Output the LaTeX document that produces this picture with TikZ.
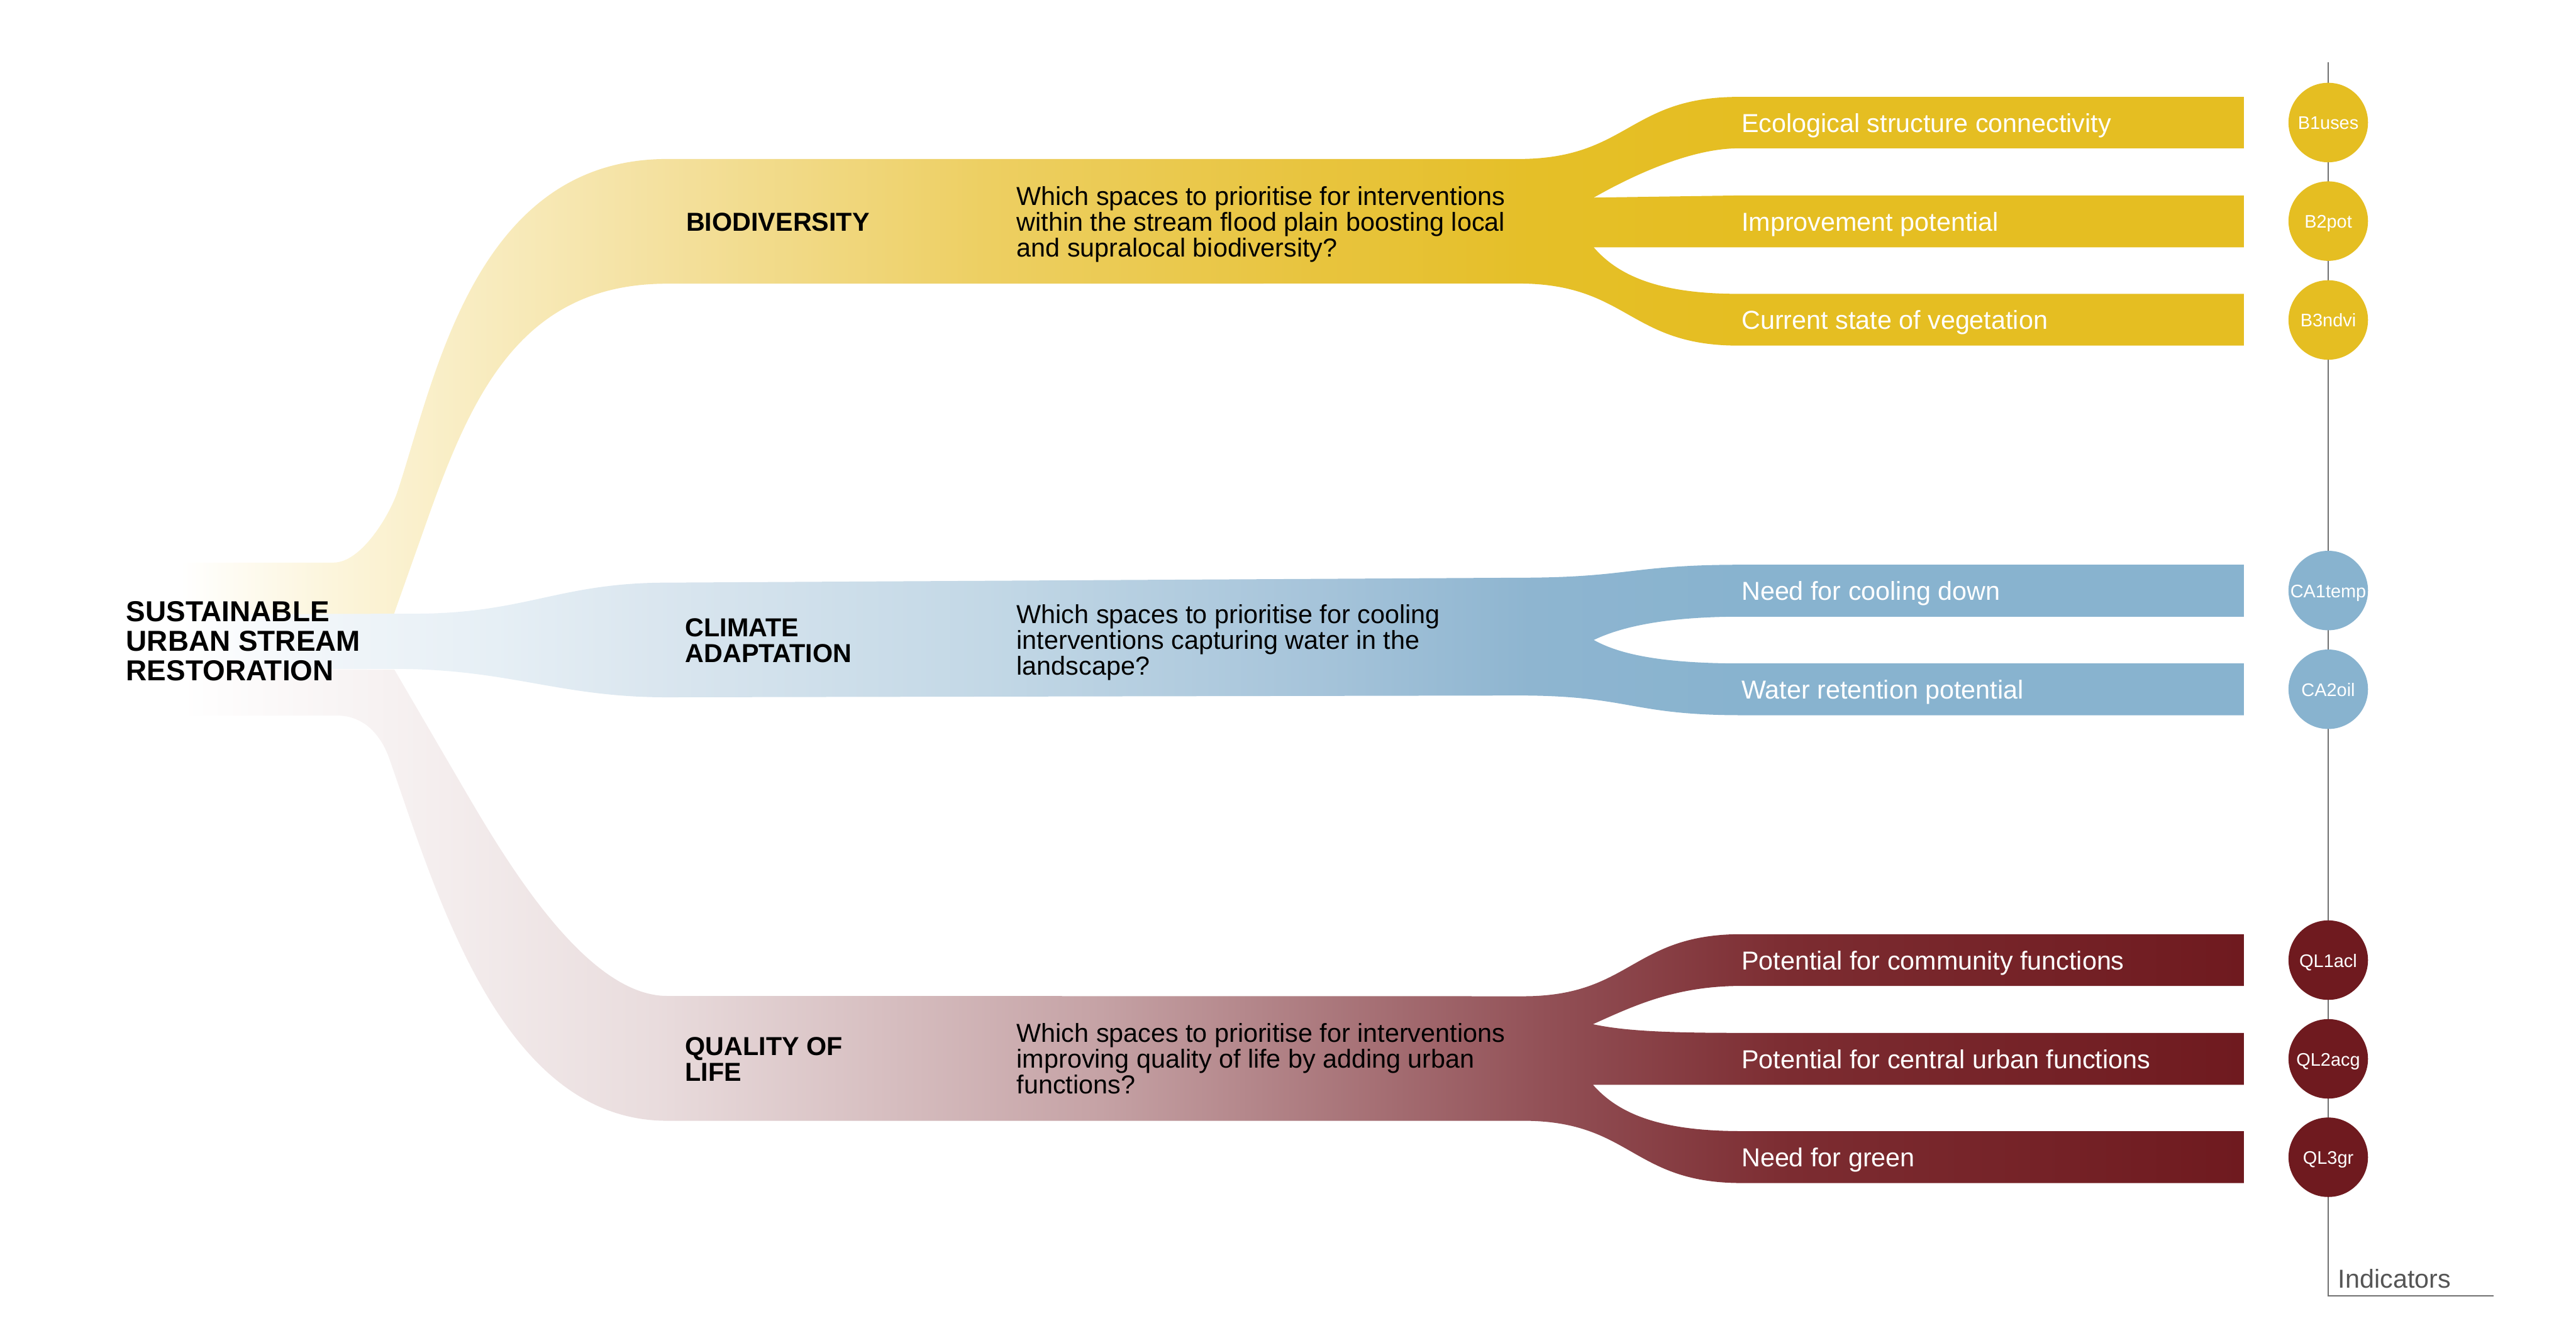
\documentclass[tikz,border=0pt]{standalone}
\usepackage{fontspec}
\setmainfont{Liberation Sans}
\definecolor{yA}{HTML}{FFFFFF}\definecolor{yB}{HTML}{FCF5DC}\definecolor{yC}{HTML}{F8EBBD}
\definecolor{yD}{HTML}{F4E1A0}\definecolor{yE}{HTML}{EDCF62}\definecolor{yF}{HTML}{E8C43E}
\definecolor{yG}{HTML}{E5BF28}\definecolor{yH}{HTML}{E5BE22}
\definecolor{bA}{HTML}{FFFFFF}\definecolor{bB}{HTML}{F0F5F9}\definecolor{bC}{HTML}{E6EFF5}
\definecolor{bD}{HTML}{DAE6EF}\definecolor{bE}{HTML}{C3D8E6}\definecolor{bF}{HTML}{A6C4DA}
\definecolor{bG}{HTML}{8EB5D0}\definecolor{bH}{HTML}{88B3CF}
\definecolor{rA}{HTML}{FFFFFF}\definecolor{rB}{HTML}{F5EFEF}\definecolor{rC}{HTML}{E9DCDD}
\definecolor{rD}{HTML}{C5A2A5}\definecolor{rE}{HTML}{925056}\definecolor{rF}{HTML}{7C2C31}
\definecolor{rG}{HTML}{6F1A1F}
\definecolor{axisgray}{HTML}{707070}
\definecolor{labgray}{HTML}{555555}
\pgfdeclarehorizontalshading{yelgrad}{100bp}{color(0bp)=(yA); color(25bp)=(yA); color(28.6bp)=(yB); color(32.6bp)=(yC); color(36.5bp)=(yD); color(44.5bp)=(yE); color(52.5bp)=(yF); color(57.7bp)=(yG); color(62.8bp)=(yH); color(100bp)=(yH)}
\pgfdeclarehorizontalshading{bluegrad}{100bp}{color(0bp)=(bA); color(25bp)=(bA); color(28.6bp)=(bB); color(32.6bp)=(bC); color(36.5bp)=(bD); color(44.5bp)=(bE); color(52.5bp)=(bF); color(57.7bp)=(bG); color(62.8bp)=(bH); color(100bp)=(bH)}
\pgfdeclarehorizontalshading{redgrad}{100bp}{color(0bp)=(rA); color(25bp)=(rA); color(30.8bp)=(rB); color(36.5bp)=(rC); color(47.3bp)=(rD); color(58.1bp)=(rE); color(64bp)=(rF); color(75bp)=(rG); color(100bp)=(rG)}
\tikzset{
  rootlbl/.style={font=\bfseries\fontsize{10}{10.27}\selectfont, align=left, inner sep=0pt, anchor=base west},
  headlbl/.style={font=\bfseries\fontsize{9}{8.85}\selectfont, align=left, inner sep=0pt, anchor=base west},
  question/.style={font=\fontsize{9}{8.95}\selectfont, align=left, inner sep=0pt, anchor=base west},
  branchlbl/.style={font=\fontsize{9}{10}\selectfont, text=white, inner sep=0pt, anchor=base west},
  indic/.style={circle, inner sep=0pt, minimum size=0.968cm, text=white, text height=4.8pt, text depth=0pt, font=\fontsize{6.3}{7}\selectfont},
  axisline/.style={draw=axisgray, line width=0.5pt}
}
\begin{document}
\begin{tikzpicture}[x=0.02cm, y=-0.02cm]
\useasboundingbox (0,0) rectangle (1567.8,817.3);

% Biodiversity ribbon
\shade[shading=yelgrad]
 (110,342.5) -- (203,342.5)
 .. controls (220,342.5) and (237.3,313.3) .. (242,299)
 .. controls (264.8,229.9) and (289.3,96.8) .. (406,96.8)
 -- (924,96.8)
 .. controls (991,96.8) and (991,59) .. (1058,59)
 -- (1365.6,59) -- (1365.6,90.3) -- (1058,90.3)
 .. controls (1030,90.3) and (995,106) .. (970,120.3)
 -- (1058,119) -- (1365.6,119) -- (1365.6,150.6) -- (1058,150.6) -- (970,150.6)
 .. controls (985,168) and (1010,178.9) .. (1058,178.9)
 -- (1365.6,178.9) -- (1365.6,210.4) -- (1058,210.4)
 .. controls (991,210.4) and (991,172.6) .. (924,172.6)
 -- (406,172.7)
 .. controls (320,172.7) and (289,235.8) .. (262,311)
 -- (239.7,374) -- (110,374) -- cycle;

% Climate ribbon
\shade[shading=bluegrad]
 (110,374) -- (252,373.6)
 .. controls (320,373.6) and (340,354.7) .. (406,354.7)
 -- (924,351.7)
 .. controls (992,351.7) and (992,343.8) .. (1060,343.8)
 -- (1365.6,343.8) -- (1365.6,375.4) -- (1060,375.4)
 .. controls (1020,375.4) and (990,380) .. (970,389.6)
 .. controls (985,398) and (1010,403.9) .. (1060,403.9)
 -- (1365.6,403.9) -- (1365.6,435.4) -- (1060,435.4)
 .. controls (992,435.4) and (992,423.4) .. (924,423.4)
 -- (406,424.5)
 .. controls (340,424.5) and (310,407.2) .. (240,407.2)
 -- (110,407.2) -- cycle;

% Quality of life ribbon
\shade[shading=redgrad]
 (110,407.2) -- (240,407.6)
 -- (281.3,478.4)
 .. controls (306.5,521.6) and (356,606.3) .. (406,606.3)
 -- (927,606.5)
 .. controls (993,606.5) and (993,568.7) .. (1060,568.7)
 -- (1365.6,568.7) -- (1365.6,600.2) -- (1060,600.2)
 .. controls (1020,600.2) and (995,612) .. (969.5,623.5)
 .. controls (990,628) and (1020,628.8) .. (1060,628.8)
 -- (1365.6,628.8) -- (1365.6,660.4) -- (1060,660.4) -- (969.5,660.4)
 .. controls (985,678) and (1010,688.6) .. (1060,688.6)
 -- (1365.6,688.6) -- (1365.6,720.2) -- (1060,720.2)
 .. controls (993,720.2) and (993,682.3) .. (927,682.3)
 -- (406,682.3)
 .. controls (305.8,682.3) and (266.5,546.4) .. (237,462)
 .. controls (232.1,448) and (222,435.6) .. (205,435.6)
 -- (110,435.6) -- cycle;

% Texts (anchor = baseline of the last line)
\node[rootlbl] (root) at (76.5,414.5) {SUSTAINABLE\\URBAN STREAM\\RESTORATION};
\node[headlbl] (hbio) at (417.3,140.7) {BIODIVERSITY};
\node[headlbl] (hca) at (416.7,403.2) {CLIMATE\\ADAPTATION};
\node[headlbl] (hql) at (416.7,658.2) {QUALITY OF\\LIFE};
\node[question] (qbio) at (618.5,156.3) {Which spaces to prioritise for interventions\\within the stream flood plain boosting local\\and supralocal biodiversity?};
\node[question] (qca) at (618.5,410.9) {Which spaces to prioritise for cooling\\interventions capturing water in the\\landscape?};
\node[question] (qql) at (618.5,666) {Which spaces to prioritise for interventions\\improving quality of life by adding urban\\functions?};

\node[branchlbl] (b1) at (1059.6,80.5) {Ecological structure connectivity};
\node[branchlbl] (b2) at (1059.6,140.7) {Improvement potential};
\node[branchlbl] (b3) at (1059.6,200.5) {Current state of vegetation};
\node[branchlbl] (c1) at (1059.6,365.5) {Need for cooling down};
\node[branchlbl] (c2) at (1059.6,425.5) {Water retention potential};
\node[branchlbl] (q1) at (1059.6,590.3) {Potential for community functions};
\node[branchlbl] (q2) at (1059.6,650.5) {Potential for central urban functions};
\node[branchlbl] (q3) at (1059.6,710.3) {Need for green};

% Indicator axis
\coordinate (axtop) at (1417,38);
\coordinate (axbot) at (1417,788.8);
\coordinate (axend) at (1517.8,788.8);
\draw[axisline] (axtop) -- (axbot) -- (axend);
\node[font=\fontsize{9}{10}\selectfont, text=labgray, inner sep=0pt, anchor=base west] (indl) at (1422.7,784) {Indicators};

\node[indic, fill=yH] (i1) at (1417,74.6) {B1uses};
\node[indic, fill=yH] (i2) at (1417,134.6) {B2pot};
\node[indic, fill=yH] (i3) at (1417,194.8) {B3ndvi};
\node[indic, fill=bH] (i4) at (1417,359.5) {CA1temp};
\node[indic, fill=bH] (i5) at (1417,419.6) {CA2oil};
\node[indic, fill=rG] (i6) at (1417,584.5) {QL1acl};
\node[indic, fill=rG] (i7) at (1417,644.6) {QL2acg};
\node[indic, fill=rG] (i8) at (1417,704.5) {QL3gr};
\end{tikzpicture}
\end{document}
